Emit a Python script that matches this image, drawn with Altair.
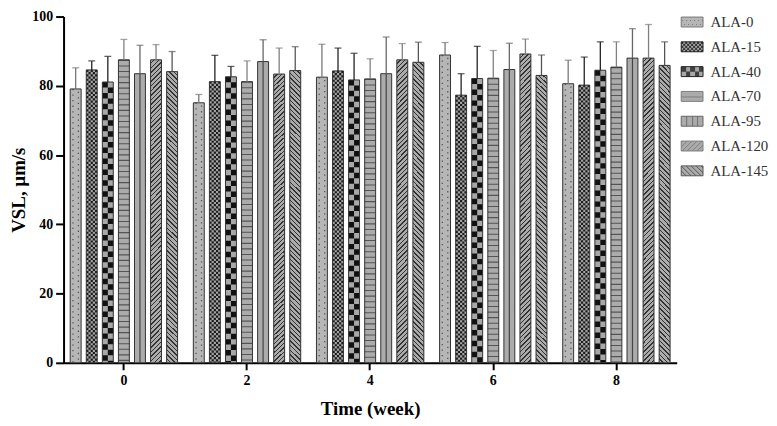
import altair as alt
import pandas as pd

# ---------------- data ----------------
WEEKS = ["0", "2", "4", "6", "8"]
SERIES = ["ALA-0", "ALA-15", "ALA-40", "ALA-70", "ALA-95", "ALA-120", "ALA-145"]

MEAN_ALA0 = [79.1, 75.1, 82.5, 88.9, 80.6]
MEAN_ALA15 = [84.6, 81.2, 84.3, 77.3, 80.2]
MEAN_ALA40 = [81.1, 82.6, 81.7, 82.1, 84.5]
MEAN_ALA70 = [87.5, 81.2, 82.0, 82.2, 85.4]
MEAN_ALA95 = [83.5, 87.0, 83.5, 84.7, 88.0]
MEAN_ALA120 = [87.5, 83.4, 87.5, 89.2, 88.0]
MEAN_ALA145 = [84.1, 84.4, 86.8, 83.0, 85.9]

SD_ALA0 = [6.1, 2.4, 9.5, 3.6, 6.8]
SD_ALA15 = [2.6, 7.6, 6.6, 6.2, 8.1]
SD_ALA40 = [7.4, 3.0, 7.7, 9.3, 8.2]
SD_ALA70 = [5.9, 6.0, 5.8, 8.0, 7.3]
SD_ALA95 = [8.2, 6.3, 10.6, 7.6, 8.5]
SD_ALA120 = [4.4, 7.5, 4.7, 4.3, 9.7]
SD_ALA145 = [5.8, 6.9, 5.8, 5.9, 6.8]

MEANS = [MEAN_ALA0, MEAN_ALA15, MEAN_ALA40, MEAN_ALA70, MEAN_ALA95, MEAN_ALA120, MEAN_ALA145]
SDS = [SD_ALA0, SD_ALA15, SD_ALA40, SD_ALA70, SD_ALA95, SD_ALA120, SD_ALA145]

rows = []
for s, m_list, sd_list in zip(SERIES, MEANS, SDS):
    for w, m, sd in zip(WEEKS, m_list, sd_list):
        rows.append({"week": w, "series": s, "mean": m, "sd": sd})
df = pd.DataFrame(rows)

# ---------------- style / layout ----------------
FONT = "Liberation Serif"
W, H = 618, 349
X_PI, X_PO = 0.1, 0.04
O_PI, O_PO = 0.32, 0.107
STEP = W / (len(WEEKS) - X_PI + 2 * X_PO)
BW = STEP * (1 - X_PI)
OSTEP = BW / (len(SERIES) - O_PI + 2 * O_PO)
BAR_W = OSTEP * (1 - O_PI)
PXU = H / 100.0

BASE_FILLS = ["#b6b6b6", "#a4a4a4", "#a8a8a8", "#ababab", "#ababab", "#ababab", "#ababab"]
ERR_COLORS = ["#777777", "#222222", "#222222", "#808080", "#666666", "#808080", "#555555"]

x_enc = alt.X(
    "week:N", sort=WEEKS, title="Time (week)",
    scale=alt.Scale(paddingInner=X_PI, paddingOuter=X_PO),
    axis=alt.Axis(labelAngle=0, tickSize=7, labelPadding=4, titlePadding=12),
)
y_enc = alt.Y(
    "mean:Q", title="VSL, µm/s",
    scale=alt.Scale(domain=[0, 100], nice=False),
    axis=alt.Axis(
        values=list(range(0, 101, 5)),
        labelExpr="datum.value % 20 === 0 ? datum.label : ''",
        tickSize={"condition": {"test": "datum.value % 20 === 0", "value": 8}, "value": 4.5},
        labelPadding=3, titlePadding=3,
    ),
)


def xoff(dx=0.0):
    return alt.XOffset(
        "series:N",
        scale=alt.Scale(domain=SERIES, paddingInner=O_PI, paddingOuter=O_PO,
                        range=[dx, BW + dx]),
    )


# ---------------- legend symbols (custom paths, 22x10 px, 11 px per unit) ----------------
def sym_path(dark):
    u = 1 / 11.0
    parts = ["M-1,-0.4545H1V0.4545H-1Z"]
    for r in range(10):
        y = (-5 + r + 0.5) * u
        c = 0
        while c < 22:
            if dark(c, r):
                start = c
                while c < 22 and dark(c, r):
                    c += 1
                parts.append("M%.4f,%.4fh%.4f" % ((-11 + start) * u, y, (c - start) * u))
            else:
                c += 1
    return "".join(parts)


PATHS = [
    sym_path(lambda x, y: y in (3, 7) and (x + (2 if y == 7 else 0)) % 4 == 1),
    sym_path(lambda x, y: ((x // 2) + (y // 2)) % 2 == 0),
    sym_path(lambda x, y: (int(x / 4.4) + int(y / 5)) % 2 == 0),
    sym_path(lambda x, y: y == 5),
    sym_path(lambda x, y: x in (5, 11, 16)),
    sym_path(lambda x, y: (x + y) % 5 == 0),
    sym_path(lambda x, y: (x - y) % 5 == 0),
]

LEG = alt.Legend(
    title=None, orient="none", legendX=622, legendY=-6, padding=0,
    symbolSize=484, symbolStrokeColor="#333333", symbolStrokeWidth=1, symbolOpacity=1,
    labelFont=FONT, labelFontSize=15, labelColor="#333333", labelOffset=7, rowPadding=5,
)
fill_enc = alt.Fill("series:N", scale=alt.Scale(domain=SERIES, range=BASE_FILLS), legend=LEG)

base = alt.Chart(df)
layers = []

# base bars
layers.append(
    base.mark_bar(stroke=None).encode(
        x=x_enc, xOffset=xoff(), y=y_enc, y2=alt.datum(0), fill=fill_enc,
    )
)


def pattern_rule(series, dx, color, width, dash=None, dash_offset=0.0):
    kw = dict(color=color, strokeWidth=width, strokeCap="butt")
    if dash:
        kw["strokeDash"] = dash
        kw["strokeDashOffset"] = dash_offset
    return base.transform_filter(alt.datum.series == series).mark_rule(**kw).encode(
        x=x_enc, xOffset=xoff(dx), y=y_enc, y2=alt.datum(0)
    )


# ALA-0 : dots
half = BAR_W / 4
layers.append(pattern_rule("ALA-0", -half, "#555555", 1.3, [1.3, 4.3], 0))
layers.append(pattern_rule("ALA-0", half, "#555555", 1.3, [1.3, 4.3], 2.8))
# ALA-15 : fine checker
cw = BAR_W / 5
for i in range(5):
    layers.append(pattern_rule("ALA-15", (i - 2) * cw, "#1c1c1c", cw, [cw, cw], 0 if i % 2 == 0 else cw))
# ALA-40 : coarse checker
cw2 = BAR_W / 2
layers.append(pattern_rule("ALA-40", -cw2 / 2, "#111111", cw2, [cw2, cw2], 0))
layers.append(pattern_rule("ALA-40", cw2 / 2, "#111111", cw2, [cw2, cw2], cw2))
# ALA-70 : horizontal lines
layers.append(pattern_rule("ALA-70", 0, "#555555", BAR_W, [1.1, 4.5], 0))
# ALA-95 : vertical centre line
layers.append(pattern_rule("ALA-95", 0, "#444444", 1.2))


def diag_gradient(h, back, fore, period=4.6, dark=1.5, mirror=False):
    w = BAR_W
    L = w + h
    a = w * L / (w * w + h * h)
    c = h * L / (w * w + h * h)
    stops = []
    k = 0
    while k * period < L:
        s0 = round(min(k * period / L, 1), 5)
        s1 = round(min((k * period + period - dark) / L, 1), 5)
        s2 = round(min((k + 1) * period / L, 1), 5)
        stops += [{"offset": s0, "color": back}, {"offset": s1, "color": back},
                  {"offset": s1, "color": fore}, {"offset": s2, "color": fore}]
        k += 1
    if mirror:
        x1, y1, x2, y2 = 1, 0, 1 - a, c
    else:
        x1, y1, x2, y2 = 0, 0, a, c
    return {"gradient": "linear", "x1": x1, "y1": y1, "x2": x2, "y2": y2, "stops": stops}


h120 = sum(MEAN_ALA120) / len(MEAN_ALA120) * PXU
h145 = sum(MEAN_ALA145) / len(MEAN_ALA145) * PXU
for s, g in [("ALA-120", diag_gradient(h120, "#ababab", "#333333")),
             ("ALA-145", diag_gradient(h145, "#ababab", "#333333", mirror=True))]:
    layers.append(
        base.transform_filter(alt.datum.series == s).mark_bar(stroke=None).encode(
            x=x_enc, xOffset=xoff(), y=y_enc, y2=alt.datum(0), fill=alt.value(g)
        )
    )

# outlines
layers.append(
    base.mark_bar(fillOpacity=0, stroke="#333333", strokeWidth=1).encode(
        x=x_enc, xOffset=xoff(), y=y_enc, y2=alt.datum(0)
    )
)

# error bars
err = base.transform_calculate(upper="datum.mean + datum.sd")
layers.append(
    err.mark_rule(strokeWidth=1.3).encode(
        x=x_enc, xOffset=xoff(), y=y_enc, y2="upper:Q",
        stroke=alt.Stroke("series:N", scale=alt.Scale(domain=SERIES, range=ERR_COLORS), legend=None),
    )
)
layers.append(
    err.mark_tick(size=7, thickness=1.3).encode(
        x=x_enc, xOffset=xoff(), y=alt.Y("upper:Q", scale=alt.Scale(domain=[0, 100], nice=False)),
        color=alt.Color("series:N", scale=alt.Scale(domain=SERIES, range=ERR_COLORS), legend=None),
    )
)

# legend carrier (invisible points)
layers.append(
    base.mark_point(filled=True, opacity=0).encode(
        x=x_enc, xOffset=xoff(), y=y_enc, fill=fill_enc,
        shape=alt.Shape("series:N", scale=alt.Scale(domain=SERIES, range=PATHS), legend=LEG),
    )
)

chart = (
    alt.layer(*layers)
    .resolve_scale(xOffset="independent")
    .properties(width=W, height=H, padding={"left": 2, "top": 0, "right": 0, "bottom": 0})
    .configure_view(stroke=None)
    .configure_axis(
        grid=False,
        labelFont=FONT, labelFontSize=14, labelFontWeight="bold", labelColor="#000000",
        titleFont=FONT, titleFontSize=19, titleFontWeight="bold", titleColor="#000000",
        domainColor="#000000", domainWidth=2, tickColor="#000000", tickWidth=2,
    )
)

chart.save("out.html", embed_options={"renderer": "svg", "actions": False})
